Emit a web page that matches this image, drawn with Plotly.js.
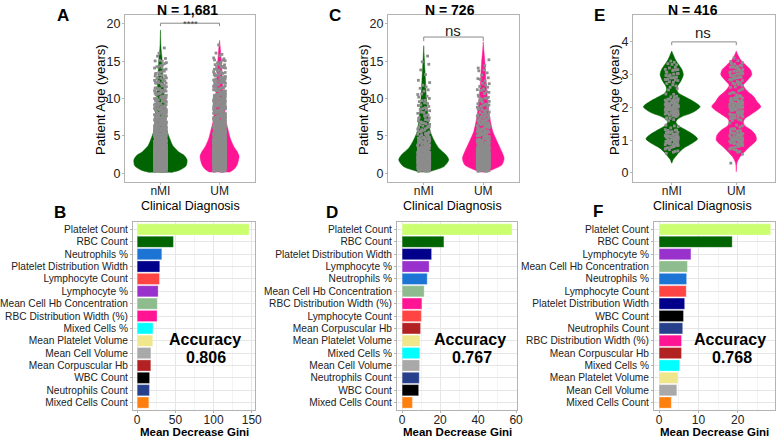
<!DOCTYPE html>
<html><head><meta charset="utf-8">
<script src="https://cdn.plot.ly/plotly-3.0.1.min.js"></script>
<style>html,body{margin:0;padding:0;background:#fff}#chart{width:777px;height:437px}</style>
</head><body><div id="chart"></div>
<script>
// ---------------- DATA ----------------
const groupLabels = ['nMI', 'UM'];
const panelTitles = ['N = 1,681', 'N = 726', 'N = 416'];
const sigLabels = ['****', 'ns', 'ns'];
const accuracyValues = ['0.806', '0.767', '0.768'];

// violin outlines (age, half-width)
const vAges_A_nMI = [0.1, 0.4, 1.0, 1.8, 2.4, 2.8, 3.7, 4.6, 5.5, 6.5, 8, 10, 12, 14, 15.5, 16.5, 17.3, 18.2, 19.2];
const vHw_A_nMI   = [0.18, 0.32, 0.435, 0.45, 0.40, 0.32, 0.21, 0.16, 0.12, 0.10, 0.085, 0.065, 0.05, 0.035, 0.025, 0.012, 0.006, 0.003, 0.0];
const vAges_A_UM  = [0.15, 0.5, 1.0, 1.4, 2.3, 3.0, 3.6, 4.5, 5.0, 6.3, 7.2, 7.8, 9.5, 11, 12.3, 14.5, 16, 17, 17.8];
const vHw_A_UM    = [0.17, 0.24, 0.29, 0.31, 0.33, 0.29, 0.24, 0.19, 0.17, 0.13, 0.10, 0.095, 0.075, 0.06, 0.05, 0.035, 0.02, 0.01, 0.0];
const vAges_C_nMI = [0.15, 0.3, 0.9, 1.8, 2.5, 3.4, 4.3, 5.6, 7.9, 10.1, 12.4, 14.6, 16, 17.1];
const vHw_C_nMI   = [0.08, 0.13, 0.34, 0.42, 0.37, 0.25, 0.18, 0.11, 0.07, 0.045, 0.03, 0.015, 0.006, 0];
const vAges_C_UM  = [0.15, 0.3, 1.1, 2.0, 2.9, 4.3, 5.6, 7.9, 10.1, 12.4, 14.6, 16.3, 17.6];
const vHw_C_UM    = [0.06, 0.1, 0.31, 0.35, 0.31, 0.23, 0.16, 0.1, 0.07, 0.045, 0.03, 0.012, 0];
const vAges_E_nMI = [0.3, 0.4, 0.5, 0.6, 0.75, 0.9, 1.04, 1.15, 1.31, 1.45, 1.55, 1.62, 1.72, 1.85, 2.02, 2.18, 2.33, 2.45, 2.55, 2.65, 2.8, 3.0, 3.15, 3.3, 3.45, 3.6, 3.72];
const vHw_E_nMI   = [0, 0.02, 0.06, 0.1, 0.18, 0.31, 0.40, 0.35, 0.22, 0.1, 0.065, 0.08, 0.16, 0.33, 0.44, 0.34, 0.2, 0.1, 0.08, 0.09, 0.14, 0.18, 0.16, 0.11, 0.06, 0.025, 0];
const vAges_E_UM  = [0.04, 0.3, 0.5, 0.75, 1.0, 1.15, 1.31, 1.45, 1.55, 1.65, 1.8, 2.02, 2.18, 2.33, 2.5, 2.68, 2.8, 3.0, 3.15, 3.29, 3.45, 3.6, 3.72];
const vHw_E_UM    = [0, 0.01, 0.06, 0.18, 0.31, 0.3, 0.23, 0.13, 0.11, 0.13, 0.24, 0.38, 0.32, 0.27, 0.17, 0.11, 0.16, 0.24, 0.22, 0.15, 0.07, 0.025, 0];

// jittered patient points: age bins and estimated counts
const binsAC = [0.5,1,1.5,2,2.5,3,3.5,4,4.5,5,5.5,6,6.5,7,7.5,8,8.5,9,9.5,10,10.5,11,11.5,12,12.5,13,13.5,14,14.5,15,15.5,16,17];
const countsA_nMI = [60,85,95,95,80,60,45,35,30,26,22,20,18,17,16,15,14,13,12,11,10,9,8,7,7,6,5,5,4,4,2,1,1];
const countsA_UM  = [30,50,60,65,65,60,52,45,40,35,30,27,24,22,20,19,18,17,16,15,14,13,12,11,10,9,8,7,6,5,3,2,1];
const countsC_nMI = [25,38,42,40,32,24,17,13,11,9,8,7,6,6,5,5,4,4,4,3,3,2,2,2,1,1,0,1,1,1,1,0,0];
const countsC_UM  = [22,35,42,44,40,33,27,22,18,15,13,11,10,9,8,7,6,6,5,5,4,4,3,3,3,2,2,2,1,1,0,0,0];
const binsE = [0.3,0.4,0.5,0.6,0.7,0.8,0.9,1.0,1.1,1.2,1.3,1.4,1.5,1.6,1.7,1.8,1.9,2.0,2.1,2.2,2.3,2.4,2.5,2.6,2.7,2.8,2.9,3.0,3.1,3.2,3.3,3.4,3.5];
const countsE_nMI = [0,0,0,2,4,8,12,14,13,10,6,3,1,2,6,11,15,16,14,10,5,2,1,2,3,5,6,6,5,4,3,2,0];
const countsE_UM  = [1,0,0,2,4,7,10,12,11,9,6,3,2,3,6,10,13,14,13,10,7,4,3,3,4,6,8,9,8,7,5,3,1];

// variable importance
const featureNames  = ['Platelet Count','RBC Count','Neutrophils %','Platelet Distribution Width','Lymphocyte Count','Lymphocyte %','Mean Cell Hb Concentration','RBC Distribution Width (%)','Mixed Cells %','Mean Platelet Volume','Mean Cell Volume','Mean Corpuscular Hb','WBC Count','Neutrophils Count','Mixed Cells Count'];
const featureColors = ['#CCFF70','#006400','#1C74D4','#00008B','#FF4444','#9932CC','#8FBC8F','#FF1493','#00FFFF','#F0E68C','#A9A9A9','#B22222','#000000','#27408B','#FF7F0E'];

const featB = ['Platelet Count','RBC Count','Neutrophils %','Platelet Distribution Width','Lymphocyte Count','Lymphocyte %','Mean Cell Hb Concentration','RBC Distribution Width (%)','Mixed Cells %','Mean Platelet Volume','Mean Cell Volume','Mean Corpuscular Hb','WBC Count','Neutrophils Count','Mixed Cells Count'];
const giniB = [146.5, 47.4, 32.2, 29.5, 29.1, 27.4, 26.3, 26.0, 20.6, 20.3, 17.9, 17.8, 16.2, 16.0, 15.2];
const featD = ['Platelet Count','RBC Count','Platelet Distribution Width','Lymphocyte %','Neutrophils %','Mean Cell Hb Concentration','RBC Distribution Width (%)','Lymphocyte Count','Mean Corpuscular Hb','Mean Platelet Volume','Mixed Cells %','Mean Cell Volume','Neutrophils Count','WBC Count','Mixed Cells Count'];
const giniD = [57.9, 22.0, 15.5, 14.2, 13.2, 11.6, 10.4, 10.1, 9.7, 9.4, 9.3, 9.2, 9.0, 8.7, 5.4];
const featF = ['Platelet Count','RBC Count','Lymphocyte %','Mean Cell Hb Concentration','Neutrophils %','Lymphocyte Count','Platelet Distribution Width','WBC Count','Neutrophils Count','RBC Distribution Width (%)','Mean Corpuscular Hb','Mixed Cells %','Mean Platelet Volume','Mean Cell Volume','Mixed Cells Count'];
const giniF = [28.4, 18.6, 8.1, 7.2, 7.0, 6.9, 6.5, 6.2, 6.0, 5.7, 5.7, 5.2, 4.8, 4.5, 3.1];

// ---------------- STYLE / LAYOUT ----------------
const W = 777, H = 437;
const FONT = 'Liberation Sans, Arial, sans-serif';
const GREEN = '#006400', PINK = '#FF1493', PTS = '#8C8C8C', FRAME = '#B3B3B3';
const JX = [-0.085,0.025,0.095,-0.035,0.055,-0.1,0.005,0.075,-0.06,0.04,-0.015,0.1,-0.09,0.03,-0.05,0.085,-0.025,0.065,-0.075,0.015];
const JY = [0,0.35,-0.25,0.15,-0.42,0.3,-0.1,0.45,-0.32,0.2,-0.15,0.4,-0.46,0.05,0.25,-0.36,0.1];
const fx = p => p / W, fy = p => 1 - p / H;
const colorOf = {};
featureNames.forEach((n, i) => colorOf[n] = featureColors[i]);

const traces = [];
function violin(center, ages, hws, color, xa, ya) {
  const xs = [], ys = [];
  for (let i = 0; i < ages.length; i++) { xs.push(center - hws[i]); ys.push(ages[i]); }
  for (let i = ages.length - 1; i >= 0; i--) { xs.push(center + hws[i]); ys.push(ages[i]); }
  traces.push({type:'scatter', mode:'lines', x:xs, y:ys, fill:'toself', fillcolor:color,
    line:{color:color, width:0.5, shape:'spline', smoothing:0.7}, xaxis:xa, yaxis:ya, hoverinfo:'skip'});
}
function points(center, bins, counts, binW, xa, ya) {
  const xs = [], ys = []; let k = 0;
  bins.forEach((b, i) => { for (let j = 0; j < counts[i]; j++) { xs.push(center + JX[k % JX.length]); ys.push(b + JY[k % JY.length] * binW); k++; } });
  traces.push({type:'scatter', mode:'markers', x:xs, y:ys, marker:{color:PTS, size:2.8, symbol:'square'}, xaxis:xa, yaxis:ya, hoverinfo:'skip'});
}
function bracket(yLine, yTick, xa, ya) {
  traces.push({type:'scatter', mode:'lines', x:[1,1,2,2], y:[yTick,yLine,yLine,yTick], line:{color:'#8A8A8A', width:1}, xaxis:xa, yaxis:ya, hoverinfo:'skip'});
}
function bars(feats, vals, xa, ya) {
  traces.push({type:'bar', orientation:'h', y:feats, x:vals, width:0.9,
    marker:{color:feats.map(f => colorOf[f]), line:{color:'rgba(255,255,255,0.6)', width:0.5}}, xaxis:xa, yaxis:ya, hoverinfo:'skip'});
}

// top row
violin(1, vAges_A_nMI, vHw_A_nMI, GREEN, 'x', 'y');
violin(2, vAges_A_UM, vHw_A_UM, PINK, 'x', 'y');
points(1, binsAC, countsA_nMI, 0.5, 'x', 'y');
points(2, binsAC, countsA_UM, 0.5, 'x', 'y');
bracket(20.1, 19.7, 'x', 'y');
violin(1, vAges_C_nMI, vHw_C_nMI, GREEN, 'x2', 'y2');
violin(2, vAges_C_UM, vHw_C_UM, PINK, 'x2', 'y2');
points(1, binsAC, countsC_nMI, 0.5, 'x2', 'y2');
points(2, binsAC, countsC_UM, 0.5, 'x2', 'y2');
bracket(18.25, 17.7, 'x2', 'y2');
violin(1, vAges_E_nMI, vHw_E_nMI, GREEN, 'x3', 'y3');
violin(2, vAges_E_UM, vHw_E_UM, PINK, 'x3', 'y3');
points(1, binsE, countsE_nMI, 0.1, 'x3', 'y3');
points(2, binsE, countsE_UM, 0.1, 'x3', 'y3');
bracket(4.0, 3.9, 'x3', 'y3');
// bottom row
bars(featB, giniB, 'x4', 'y4');
bars(featD, giniD, 'x5', 'y5');
bars(featF, giniF, 'x6', 'y6');

const frame = {showline:true, mirror:true, linecolor:FRAME, linewidth:1, zeroline:false,
  ticks:'outside', ticklen:2, tickcolor:FRAME, fixedrange:true};
function topX(l, r, yref) {
  return Object.assign({}, frame, {domain:[fx(l), fx(r)], range:[0.4, 2.6], tickvals:[1,2], ticktext:groupLabels,
    showgrid:false, anchor:yref, ticklabelstandoff:-4, tickfont:{family:FONT, size:12, color:'#222'}});
}
function topY(range, tv, xref) {
  return Object.assign({}, frame, {domain:[fy(182), fy(15)], range:range, tickvals:tv, showgrid:false, anchor:xref,
    ticklabelstandoff:-1, tickfont:{family:FONT, size:12.5, color:'#222'}});
}
function botX(l, r, range, dtick, yref) {
  return Object.assign({}, frame, {domain:[fx(l), fx(r)], range:range, tick0:0, dtick:dtick, showgrid:true, gridcolor:'#E6E6E6',
    minor:{dtick:dtick/2, showgrid:true, gridcolor:'#F3F3F3'}, anchor:yref, ticklabelstandoff:-3, tickfont:{family:FONT, size:12, color:'#222'}});
}
function botY(feats, xref) {
  return Object.assign({}, frame, {domain:[fy(410), fy(222)], type:'category', categoryorder:'array', categoryarray:feats,
    range:[14.6, -0.6], showgrid:true, gridcolor:'#E6E6E6', anchor:xref, tickfont:{family:FONT, size:10.2, color:'#222'}});
}

const ann = [];
function txt(t, x, y, size, opts) {
  ann.push(Object.assign({text:t, x:fx(x), y:fy(y), xref:'paper', yref:'paper', showarrow:false, xanchor:'center', yanchor:'middle',
    font:{family:FONT, size:size, color:'#000'}}, opts || {}));
}
// titles & labels
txt('<b>' + panelTitles[0] + '</b>', 187, 0, 14, {yanchor:'top'});
txt('<b>' + panelTitles[1] + '</b>', 450, 0, 14, {yanchor:'top'});
txt('<b>' + panelTitles[2] + '</b>', 693, 0, 14, {yanchor:'top'});
[['A',63,16],['C',335,16],['E',599,16],['B',60,212],['D',332,212],['F',598,211]].forEach(a => txt('<b>' + a[0] + '</b>', a[1], a[2], 17));
[100, 363, 614].forEach(x => txt('Patient Age (years)', x, 100, 13, {textangle:-90}));
[190, 453, 702].forEach(x => txt('Clinical Diagnosis', x, 206, 12.5));
txt(sigLabels[0], 190, 23.5, 9.5, {font:{family:FONT, size:9.5, color:'#444'}});
txt(sigLabels[1], 453, 30, 15, {font:{family:FONT, size:15, color:'#222'}});
txt(sigLabels[2], 703, 33, 15, {font:{family:FONT, size:15, color:'#222'}});
[194, 457, 714].forEach(x => txt('<b>Mean Decrease Gini</b>', x, 432, 11.5));
[[205,205.5],[469.5,471.5],[729.5,732]].forEach((p, i) => {
  txt('<b>Accuracy</b>', p[0], 339, 16);
  txt('<b>' + accuracyValues[i] + '</b>', p[1], 357, 16);
});

const layout = {
  width:W, height:H, margin:{l:0, r:0, t:0, b:0}, paper_bgcolor:'#fff', plot_bgcolor:'#fff',
  showlegend:false, bargap:0.1, font:{family:FONT},
  xaxis: topX(125, 255, 'y'),  yaxis: topY([-1.17, 21.2], [0,5,10,15,20], 'x'),
  xaxis2: topX(388, 519, 'y2'), yaxis2: topY([-1.17, 21.2], [0,5,10,15,20], 'x2'),
  xaxis3: topX(633, 775, 'y3'), yaxis3: topY([-0.275, 4.82], [0,1,2,3,4], 'x3'),
  xaxis4: botX(133, 255, [-5.5, 154.2], 50, 'y4'), yaxis4: botY(featB, 'x4'),
  xaxis5: botX(397, 517, [-2.7, 60.5], 20, 'y5'), yaxis5: botY(featD, 'x5'),
  xaxis6: botX(654, 775, [-1.3, 29.5], 10, 'y6'), yaxis6: botY(featF, 'x6'),
  annotations: ann
};
Plotly.newPlot('chart', traces, layout, {staticPlot:true, displayModeBar:false});
</script></body></html>
